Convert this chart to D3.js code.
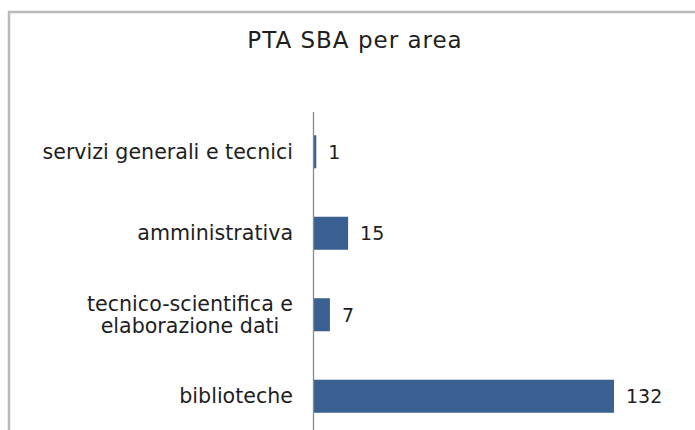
<!DOCTYPE html>
<html>
<head>
<meta charset="utf-8">
<title>PTA SBA per area</title>
<style>
  body {margin: 0; background: #fff;}
  .lbl {font-family: "DejaVu Sans", Verdana, sans-serif; fill: #1e1e1e;}
</style>
</head>
<body>
<div id="chart"></div>
<script src="https://d3js.org/d3.v7.min.js"></script>
<script>
// data
var categories = [["servizi generali e tecnici"], ["amministrativa"], ["tecnico-scientifica e", "elaborazione dati"], ["biblioteche"]];
var values = [1, 15, 7, 132];
var title = "PTA SBA per area";

var W = 695, H = 430;
var svg = d3.select("#chart").append("svg")
    .attr("width", W).attr("height", H);

// frame
svg.append("path")
    .attr("d", "M9,432 V12 H697")
    .attr("fill", "none")
    .attr("stroke", "#bababa")
    .attr("stroke-width", 2.5);

svg.append("text")
    .attr("class", "lbl")
    .attr("x", 355).attr("y", 48)
    .attr("text-anchor", "middle")
    .style("font-size", "23px")
    .style("letter-spacing", "1px")
    .text(title);

var data = categories.map(function(c, i) { return {name: c, value: values[i], key: i}; });

var y = d3.scaleBand().domain(data.map(function(d) { return d.key; }))
    .range([111, 437]).paddingInner(0.595).paddingOuter(0.2975);
var x = d3.scaleLinear().domain([0, 132]).range([314, 614]);

// bars
svg.selectAll("rect.bar").data(data).join("rect")
    .attr("class", "bar")
    .attr("x", x(0))
    .attr("y", function(d) { return y(d.key); })
    .attr("width", function(d) { return x(d.value) - x(0); })
    .attr("height", y.bandwidth())
    .attr("fill", "#3a5f91");

// axis
var yAxis = svg.append("g").attr("transform", "translate(313.5,0)")
    .call(d3.axisLeft(y).tickSize(0).tickFormat(""));
yAxis.select(".domain").attr("d", "M0,112V440").attr("stroke", "#8a8a8a").attr("stroke-width", 1.3);

// category labels
var lg = svg.append("g");
data.forEach(function(d) {
    var cy = y(d.key) + y.bandwidth() / 2;
    var n = d.name.length;
    var t = lg.append("text").attr("class", "lbl").style("font-size", "20.6px");
    d.name.forEach(function(line, j) {
        t.append("tspan").attr("y", cy + 7 + (j - (n - 1) / 2) * 21.5).text(line);
    });
    var maxW = 0;
    t.selectAll("tspan").each(function() { maxW = Math.max(maxW, this.getComputedTextLength()); });
    t.attr("text-anchor", "middle");
    t.selectAll("tspan").attr("x", 293 - maxW / 2);
});

// value labels
svg.selectAll("text.val").data(data).join("text")
    .attr("class", "val lbl")
    .attr("x", function(d) { return x(d.value) + 12; })
    .attr("y", function(d) { return y(d.key) + y.bandwidth() / 2 + 7; })
    .style("font-size", "19px")
    .text(function(d) { return d.value; });
</script>
</body>
</html>
